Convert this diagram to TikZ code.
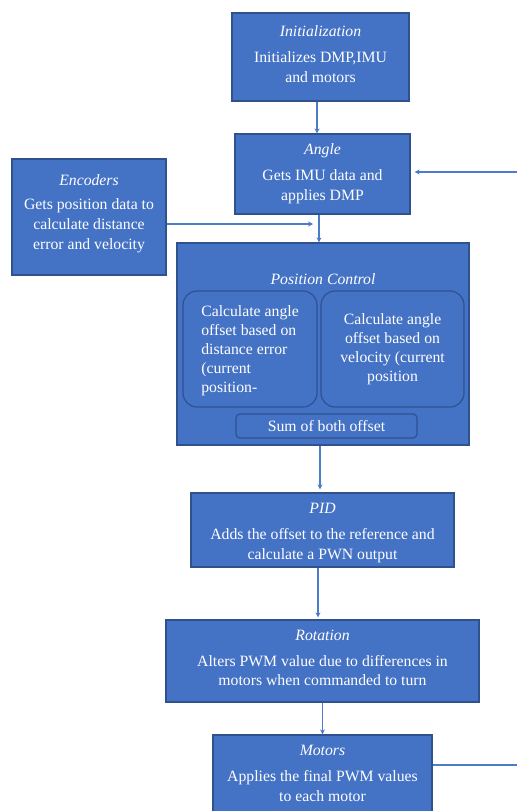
\documentclass[tikz,border=0pt]{standalone}
\usepackage{fontspec}
\setmainfont{Liberation Serif}
\usetikzlibrary{arrows.meta}
\definecolor{boxfill}{HTML}{4472C4}
\definecolor{boxline}{HTML}{2F528F}
\definecolor{conn}{HTML}{4A7CC9}
\tikzset{
  blk/.style={draw=boxline, fill=boxfill, text=white, line width=1.2bp, align=center,
    inner sep=0pt, font=\fontsize{15.8}{20}\selectfont},
  sub/.style={draw=boxline, fill=boxfill, text=white, line width=1.2bp,
    rounded corners=14bp, inner sep=0pt, font=\fontsize{15.8}{19}\selectfont},
  arr/.style={draw=conn, line width=1.2bp, -{Stealth[length=5bp,width=5bp]}},
  ln/.style={draw=conn, line width=1.2bp},
}
\begin{document}
\begin{tikzpicture}[x=1bp,y=-1bp]
\useasboundingbox (0,0) rectangle (517,811);
\clip (0,0) rectangle (517,811);
\fill[white] (0,0) rectangle (517,811);

\node[blk, minimum width=177bp, minimum height=88bp] (init) at (320.5,57)
  {\textit{Initialization}\\[6bp]Initializes DMP,IMU\\and motors\rule[-6.3bp]{0pt}{1bp}};
\node[blk, minimum width=175bp, minimum height=80bp] (angle) at (322.5,174)
  {\textit{Angle}\\[6bp]Gets IMU data and\\applies DMP};
\node[blk, minimum width=154bp, minimum height=116bp] (enc) at (89,217)
  {\textit{Encoders}\\[4bp]Gets position data to\\calculate distance\\error and velocity\rule[-10bp]{0pt}{1bp}};
\node[blk, minimum width=292bp, minimum height=202bp] (pos) at (323,344) {};
\node[text=white, font=\fontsize{15.8}{18}\selectfont\itshape, inner sep=0pt] (postitle) at (323,279) {Position Control};
\node[sub, minimum width=134bp, minimum height=116bp, align=left, inner xsep=0pt] (left) at (250,349)
  {\rule{0pt}{15bp}Calculate angle\\offset based on\\distance error\\(current\\position-\hspace*{8bp}};
\node[sub, minimum width=143bp, minimum height=116bp, align=center] (right) at (392.5,349)
  {Calculate angle\\offset based on\\velocity (current\\position};
\node[sub, rounded corners=4bp, minimum width=181bp, minimum height=24bp] (sum) at (326.5,426)
  {Sum of both offset};
\node[blk, minimum width=263bp, minimum height=74bp] (pid) at (322.5,530)
  {\rule{0pt}{17bp}\textit{PID}\\[6bp]Adds the offset to the reference and\\calculate a PWN output};
\node[blk, minimum width=313bp, minimum height=82bp] (rot) at (322.5,661)
  {\textit{Rotation}\\[6bp]Alters PWM value due to differences in\\motors when commanded to turn\rule[-6.3bp]{0pt}{1bp}};
\node[blk, minimum width=219bp, minimum height=86bp, text depth=10bp] (mot) at (322.5,778)
  {\textit{Motors}\\[6bp]Applies the final PWM values\\to each motor};

\coordinate (encend) at (313,224);
\coordinate (rin) at (517,172);
\coordinate (mout) at (517,765);

\draw[arr] ([xshift=-3.5bp]init.south) -- ([xshift=-3.5bp]init.south |- angle.north);
\draw[arr] ([xshift=-3.5bp]angle.south) -- ([xshift=-3.5bp]angle.south |- pos.north);
\draw[arr] (enc.east |- encend) -- (encend);
\draw[arr, shorten >=4bp] (rin) -- (angle.east |- rin);
\draw[arr, shorten >=3bp] ([xshift=-3bp]pos.south) -- ([xshift=-3bp]pos.south |- pid.north);
\draw[arr, shorten >=2bp] ([xshift=-4.5bp]pid.south) -- ([xshift=-4.5bp]pid.south |- rot.north);
\draw[arr] (rot.south) -- (rot.south |- mot.north);
\draw[ln] (mot.east |- mout) -- (mout);
\end{tikzpicture}
\end{document}
